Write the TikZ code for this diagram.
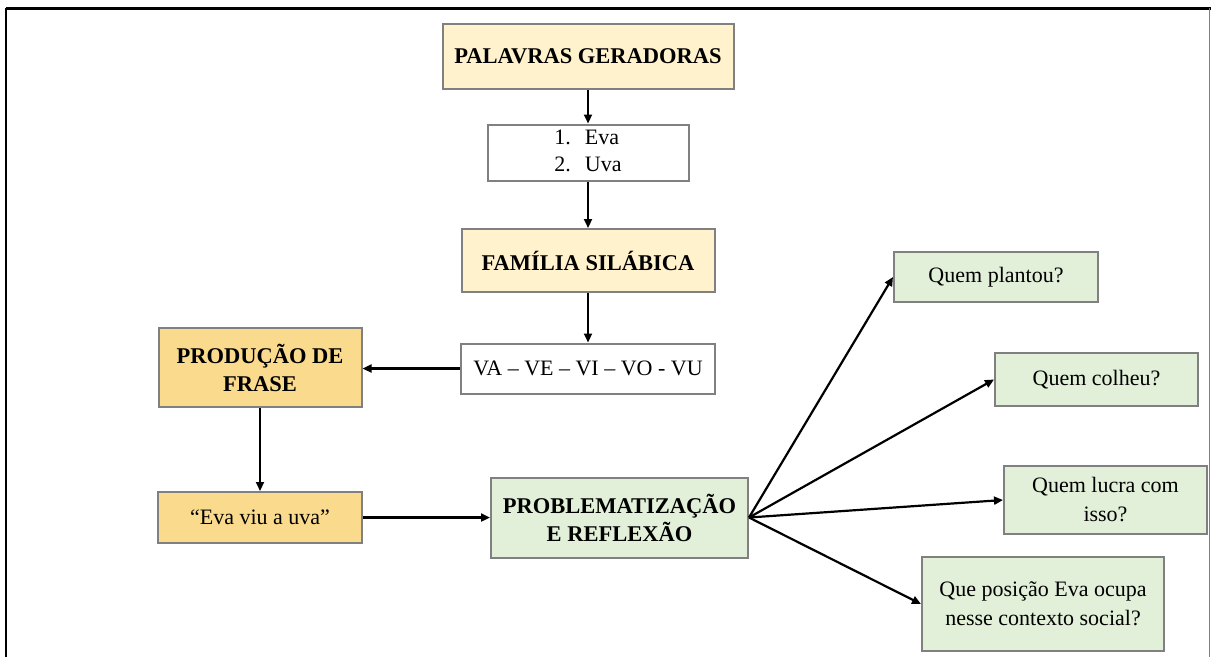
\documentclass[tikz,border=0pt]{standalone}
\usepackage{fontspec}
\setmainfont{Liberation Serif}
\usetikzlibrary{arrows.meta}

\definecolor{bege}{RGB}{255,242,204}
\definecolor{ouro}{RGB}{250,218,140}
\definecolor{verde}{RGB}{226,239,217}
\definecolor{borda}{RGB}{128,128,128}

\begin{document}
\begin{tikzpicture}[x=1pt,y=-1pt,
    caixa/.style={draw=borda,line width=2pt,inner sep=0pt,align=center,
                  font=\fontsize{22}{29}\selectfont},
    titulo/.style={caixa,font=\fontsize{22.5}{28}\selectfont\bfseries},
    seta/.style={-{Triangle[length=9pt,width=8pt]},line width=2.2pt}]
    \useasboundingbox (0,0) rectangle (1211,657);

    %moldura
    \draw[line width=3pt] (6,8) -- (1211,8);
    \draw[line width=2.5pt] (6,8) -- (6,657);
    \draw[borda,line width=1pt] (1209,8) -- (1209,657);

    %coluna central
    \node[titulo,fill=bege,minimum width=291,minimum height=65] (pal) at (588,56.5) {PALAVRAS GERADORAS};
    \node[caixa,fill=white,minimum width=201,minimum height=51] (lista) at (588,152.5)
        {\begin{tabular}{@{}l@{\hspace{14pt}}l@{}}1.&Eva\\[-2pt]2.&Uva\end{tabular}};
    \node[titulo,fill=bege,minimum width=253,minimum height=63] (fam) at (588,260.5) {FAMÍLIA SILÁBICA};
    \node[caixa,fill=white,minimum width=254,minimum height=50] (silabas) at (588,368.5) {VA – VE – VI – VO - VU};

    %frase
    \node[titulo,fill=ouro,minimum width=203,minimum height=79] (prod) at (260,367.5) {PRODUÇÃO DE\\FRASE};
    \node[caixa,fill=ouro,minimum width=204,minimum height=51] (frase) at (260,517.5) {“Eva viu a uva”};

    %problematizacao
    \node[titulo,fill=verde,minimum width=257,minimum height=80] (prob) at (619.5,517.5) {PROBLEMATIZAÇÃO\\E REFLEXÃO};

    %perguntas
    \node[caixa,fill=verde,minimum width=204,minimum height=50] (q1) at (996,277) {Quem plantou?};
    \node[caixa,fill=verde,minimum width=203,minimum height=53] (q2) at (1096.5,379.5) {Quem colheu?};
    \node[caixa,fill=verde,minimum width=203,minimum height=68] (q3) at (1105.5,500) {Quem lucra com\\isso?};
    \node[caixa,fill=verde,minimum width=242,minimum height=94] (q4) at (1043,604) {Que posição Eva ocupa\\nesse contexto social?};

    %setas
    \draw[seta] (pal) -- (lista);
    \draw[seta] (lista) -- (fam);
    \draw[seta] (fam) -- (silabas);
    \draw[seta] (silabas.west) -- (silabas.west -| prod.east);
    \draw[seta] (prod) -- (frase);
    \draw[seta] (frase) -- (prob);
    \draw[seta] (prob.east) -- (q1.west);
    \draw[seta] (prob.east) -- (q2.west);
    \draw[seta] (prob.east) -- (q3.west);
    \draw[seta] (prob.east) -- (q4.west);

\end{tikzpicture}
\end{document}
